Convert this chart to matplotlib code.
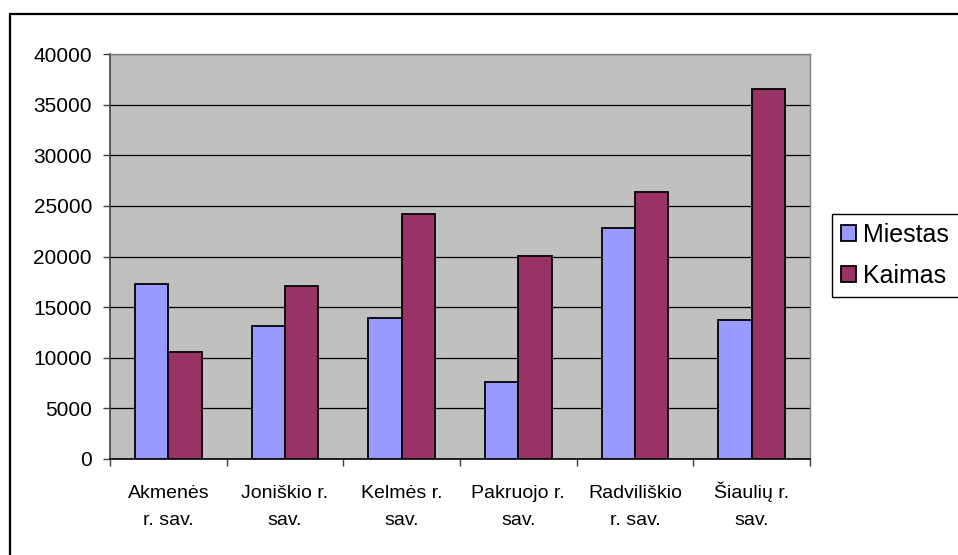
import numpy as np
import matplotlib
matplotlib.use('Agg')
import matplotlib.pyplot as plt
from matplotlib.patches import Rectangle
from matplotlib.ticker import FixedLocator

# duomenys
categories = ['Akmenės\nr. sav.', 'Joniškio r.\nsav.', 'Kelmės r.\nsav.',
              'Pakruojo r.\nsav.', 'Radviliškio\nr. sav.', 'Šiaulių r.\nsav.']
miestas = [17250, 13130, 13920, 7600, 22780, 13730]
kaimas = [10570, 17050, 24200, 20020, 26340, 36580]
y_ticks = [0, 5000, 10000, 15000, 20000, 25000, 30000, 35000, 40000]

plt.rcParams['font.family'] = ['Liberation Sans', 'DejaVu Sans']

W, H = 958, 555
fig = plt.figure(figsize=(W / 100, H / 100), dpi=100)

# outer chart border
fig.patches.append(Rectangle((10 / W, -0.1), 1.2, 1.1 - 14 / H, transform=fig.transFigure,
                             fill=False, edgecolor='black', linewidth=1.6, zorder=0))

ax = fig.add_axes([110 / W, 1 - 459 / H, 700 / W, 405 / H])
ax.set_facecolor('#C0C0C0')

x = np.arange(len(categories))
bw = 1 / 3.5
ax.bar(x - bw / 2, miestas, bw, color='#9999FF', edgecolor='black', linewidth=1.3,
       label='Miestas', zorder=3)
ax.bar(x + bw / 2, kaimas, bw, color='#993366', edgecolor='black', linewidth=1.3,
       label='Kaimas', zorder=3)

ax.set_xlim(-0.5, len(categories) - 0.5)
ax.set_ylim(0, 40000)
ax.set_yticks(y_ticks)
ax.yaxis.grid(True, color='black', linewidth=0.9, zorder=1)
ax.set_axisbelow(True)

# category labels, baseline-aligned (last line) so the caron in Š does not push one down
ax.set_xticks(x)
ax.set_xticklabels([])
for xi, lab in zip(x, categories):
    ax.text(xi, -0.163, lab, transform=ax.get_xaxis_transform(), ha='center',
            va='baseline', fontsize=14, linespacing=1.75)
ax.xaxis.set_minor_locator(FixedLocator(np.arange(-0.5, len(categories), 1.0)))
ax.tick_params(axis='x', which='major', length=0)
ax.tick_params(axis='x', which='minor', length=5, width=1, color='#404040', direction='out')
ax.tick_params(axis='y', length=5, width=1, color='#404040', direction='out',
               labelsize=15, pad=8)

for s in ['top', 'right']:
    ax.spines[s].set_color('#808080')
    ax.spines[s].set_linewidth(1)
ax.spines['left'].set_color('#404040')
ax.spines['left'].set_linewidth(1.2)
ax.spines['bottom'].set_color('black')
ax.spines['bottom'].set_linewidth(1.2)

leg = ax.legend(loc='upper left', bbox_to_anchor=(832 / W, 1 - 298 / H, 0.2, 84 / H),
                bbox_transform=fig.transFigure, mode='expand', fontsize=18, frameon=True,
                fancybox=False, edgecolor='black', framealpha=1,
                handlelength=0.6, handleheight=0.6, handletextpad=0.3,
                borderpad=0.35, labelspacing=0.7, borderaxespad=0)
leg.get_frame().set_linewidth(1)

fig.savefig('out.png', dpi=100)
